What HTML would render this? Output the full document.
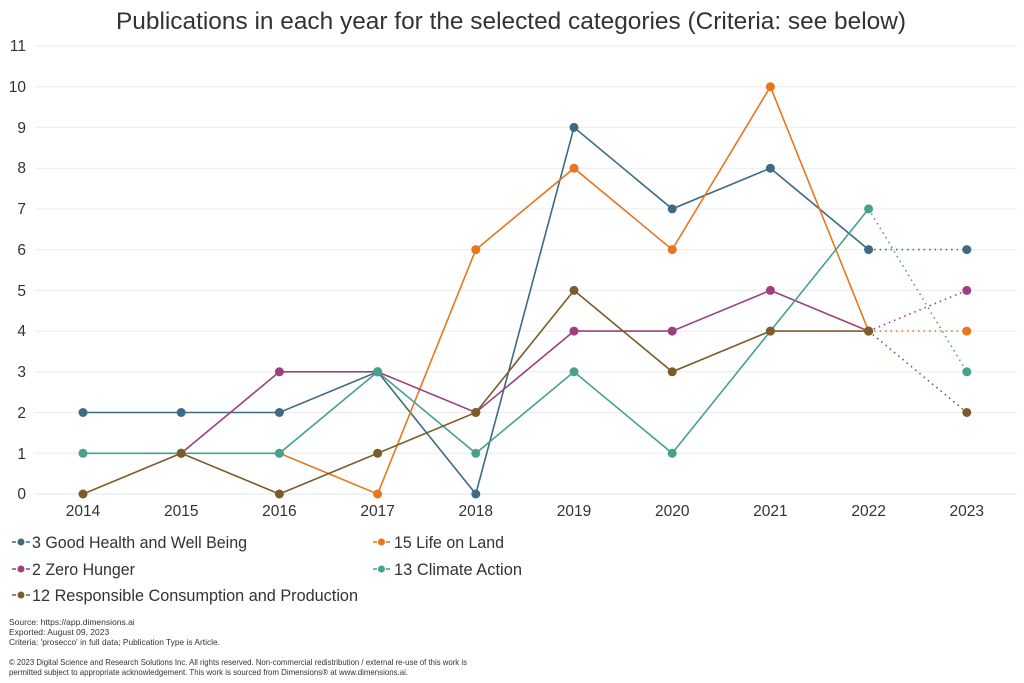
<!DOCTYPE html>
<html><head><meta charset="utf-8">
<style>
html,body{margin:0;padding:0;background:#fff;}
svg{display:block;font-family:"Liberation Sans",sans-serif;}
</style></head>
<body>
<svg width="1024" height="683" viewBox="0 0 1024 683" xmlns="http://www.w3.org/2000/svg">
<rect width="1024" height="683" fill="#fff"/>
<text x="511" y="29" text-anchor="middle" font-size="24" fill="#333" textLength="790" lengthAdjust="spacingAndGlyphs">Publications in each year for the selected categories (Criteria: see below)</text>
<g stroke="#ececec" stroke-width="1">
<line x1="35" y1="46" x2="1017" y2="46"/>
<line x1="35" y1="86.7" x2="1017" y2="86.7"/>
<line x1="35" y1="127.4" x2="1017" y2="127.4"/>
<line x1="35" y1="168.2" x2="1017" y2="168.2"/>
<line x1="35" y1="208.9" x2="1017" y2="208.9"/>
<line x1="35" y1="249.6" x2="1017" y2="249.6"/>
<line x1="35" y1="290.4" x2="1017" y2="290.4"/>
<line x1="35" y1="331.1" x2="1017" y2="331.1"/>
<line x1="35" y1="371.8" x2="1017" y2="371.8"/>
<line x1="35" y1="412.5" x2="1017" y2="412.5"/>
<line x1="35" y1="453.3" x2="1017" y2="453.3"/>
</g>
<line x1="35" y1="494" x2="1017" y2="494" stroke="#dde5ea" stroke-width="1"/>
<g font-size="15.5" fill="#333" text-anchor="end">
<text x="26" y="51">11</text>
<text x="26" y="92">10</text>
<text x="26" y="133">9</text>
<text x="26" y="173">8</text>
<text x="26" y="214">7</text>
<text x="26" y="255">6</text>
<text x="26" y="296">5</text>
<text x="26" y="336">4</text>
<text x="26" y="377">3</text>
<text x="26" y="418">2</text>
<text x="26" y="459">1</text>
<text x="26" y="499">0</text>
</g>
<g font-size="15.5" fill="#333" text-anchor="middle">
<text x="83" y="516">2014</text>
<text x="181.2" y="516">2015</text>
<text x="279.4" y="516">2016</text>
<text x="377.6" y="516">2017</text>
<text x="475.8" y="516">2018</text>
<text x="574" y="516">2019</text>
<text x="672.2" y="516">2020</text>
<text x="770.4" y="516">2021</text>
<text x="868.6" y="516">2022</text>
<text x="966.8" y="516">2023</text>
</g>

<!-- blue -->
<g stroke="#3e6a86" fill="none" stroke-width="1.6">
<polyline points="83,412.5 181.2,412.5 279.4,412.5 377.6,371.8 475.8,494 574,127.4 672.2,208.9 770.4,168.2 868.6,249.6"/>
<line x1="868.6" y1="249.6" x2="966.8" y2="249.6" stroke-dasharray="1.5,4"/>
</g>
<g fill="#3e6a86">
<circle cx="83" cy="412.5" r="4.5"/><circle cx="181.2" cy="412.5" r="4.5"/><circle cx="279.4" cy="412.5" r="4.5"/><circle cx="377.6" cy="371.8" r="4.5"/><circle cx="475.8" cy="494" r="4.5"/><circle cx="574" cy="127.4" r="4.5"/><circle cx="672.2" cy="208.9" r="4.5"/><circle cx="770.4" cy="168.2" r="4.5"/><circle cx="868.6" cy="249.6" r="4.5"/><circle cx="966.8" cy="249.6" r="4.5"/>
</g>
<!-- orange -->
<g stroke="#e8761e" fill="none" stroke-width="1.6">
<polyline points="279.4,453.3 377.6,494 475.8,249.6 574,168.2 672.2,249.6 770.4,86.7 868.6,331.1"/>
<line x1="868.6" y1="331.1" x2="966.8" y2="331.1" stroke-dasharray="1.5,4"/>
</g>
<g fill="#e8761e">
<circle cx="279.4" cy="453.3" r="4.5"/><circle cx="377.6" cy="494" r="4.5"/><circle cx="475.8" cy="249.6" r="4.5"/><circle cx="574" cy="168.2" r="4.5"/><circle cx="672.2" cy="249.6" r="4.5"/><circle cx="770.4" cy="86.7" r="4.5"/><circle cx="868.6" cy="331.1" r="4.5"/><circle cx="966.8" cy="331.1" r="4.5"/>
</g>
<!-- purple -->
<g stroke="#9e4080" fill="none" stroke-width="1.6">
<polyline points="181.2,453.3 279.4,371.8 377.6,371.8 475.8,412.5 574,331.1 672.2,331.1 770.4,290.4 868.6,331.1"/>
<line x1="868.6" y1="331.1" x2="966.8" y2="290.4" stroke-dasharray="1.5,4"/>
</g>
<g fill="#9e4080">
<circle cx="181.2" cy="453.3" r="4.5"/><circle cx="279.4" cy="371.8" r="4.5"/><circle cx="377.6" cy="371.8" r="4.5"/><circle cx="475.8" cy="412.5" r="4.5"/><circle cx="574" cy="331.1" r="4.5"/><circle cx="672.2" cy="331.1" r="4.5"/><circle cx="770.4" cy="290.4" r="4.5"/><circle cx="868.6" cy="331.1" r="4.5"/><circle cx="966.8" cy="290.4" r="4.5"/>
</g>
<!-- teal -->
<g stroke="#47a18c" fill="none" stroke-width="1.6">
<polyline points="83,453.3 181.2,453.3 279.4,453.3 377.6,371.8 475.8,453.3 574,371.8 672.2,453.3 770.4,331.1 868.6,208.9"/>
<line x1="868.6" y1="208.9" x2="966.8" y2="371.8" stroke-dasharray="1.5,4"/>
</g>
<g fill="#47a18c">
<circle cx="83" cy="453.3" r="4.5"/><circle cx="181.2" cy="453.3" r="4.5"/><circle cx="279.4" cy="453.3" r="4.5"/><circle cx="377.6" cy="371.8" r="4.5"/><circle cx="475.8" cy="453.3" r="4.5"/><circle cx="574" cy="371.8" r="4.5"/><circle cx="672.2" cy="453.3" r="4.5"/><circle cx="770.4" cy="331.1" r="4.5"/><circle cx="868.6" cy="208.9" r="4.5"/><circle cx="966.8" cy="371.8" r="4.5"/>
</g>
<!-- brown -->
<g stroke="#7b5d2c" fill="none" stroke-width="1.6">
<polyline points="83,494 181.2,453.3 279.4,494 377.6,453.3 475.8,412.5 574,290.4 672.2,371.8 770.4,331.1 868.6,331.1"/>
<line x1="868.6" y1="331.1" x2="966.8" y2="412.5" stroke-dasharray="1.5,4"/>
</g>
<g fill="#7b5d2c">
<circle cx="83" cy="494" r="4.5"/><circle cx="181.2" cy="453.3" r="4.5"/><circle cx="279.4" cy="494" r="4.5"/><circle cx="377.6" cy="453.3" r="4.5"/><circle cx="475.8" cy="412.5" r="4.5"/><circle cx="574" cy="290.4" r="4.5"/><circle cx="672.2" cy="371.8" r="4.5"/><circle cx="770.4" cy="331.1" r="4.5"/><circle cx="868.6" cy="331.1" r="4.5"/><circle cx="966.8" cy="412.5" r="4.5"/>
</g>

<!-- legend -->
<g stroke-width="1.5">
<line x1="12" y1="542" x2="16" y2="542" stroke="#3e6a86"/><line x1="26" y1="542" x2="30" y2="542" stroke="#3e6a86"/><circle cx="21" cy="542" r="3.5" fill="#3e6a86"/>
<line x1="373" y1="542" x2="377" y2="542" stroke="#e8761e"/><line x1="386" y1="542" x2="390" y2="542" stroke="#e8761e"/><circle cx="381.5" cy="542" r="3.5" fill="#e8761e"/>
<line x1="12" y1="569" x2="16" y2="569" stroke="#9e4080"/><line x1="26" y1="569" x2="30" y2="569" stroke="#9e4080"/><circle cx="21" cy="569" r="3.5" fill="#9e4080"/>
<line x1="373" y1="569" x2="377" y2="569" stroke="#47a18c"/><line x1="386" y1="569" x2="390" y2="569" stroke="#47a18c"/><circle cx="381.5" cy="569" r="3.5" fill="#47a18c"/>
<line x1="12" y1="595" x2="16" y2="595" stroke="#7b5d2c"/><line x1="26" y1="595" x2="30" y2="595" stroke="#7b5d2c"/><circle cx="21" cy="595" r="3.5" fill="#7b5d2c"/>
</g>
<g font-size="17" fill="#333">
<text x="32" y="548" textLength="215" lengthAdjust="spacingAndGlyphs">3 Good Health and Well Being</text>
<text x="394" y="548" textLength="110" lengthAdjust="spacingAndGlyphs">15 Life on Land</text>
<text x="32" y="575" textLength="103" lengthAdjust="spacingAndGlyphs">2 Zero Hunger</text>
<text x="394" y="575" textLength="128" lengthAdjust="spacingAndGlyphs">13 Climate Action</text>
<text x="32" y="601" textLength="326" lengthAdjust="spacingAndGlyphs">12 Responsible Consumption and Production</text>
</g>
<g font-size="8.5" fill="#333">
<text x="9" y="625">Source: https://app.dimensions.ai</text>
<text x="9" y="635">Exported: August 09, 2023</text>
<text x="9" y="645" textLength="211" lengthAdjust="spacingAndGlyphs">Criteria: 'prosecco' in full data; Publication Type is Article.</text>
<text x="9" y="665" textLength="458" lengthAdjust="spacingAndGlyphs">© 2023 Digital Science and Research Solutions Inc. All rights reserved. Non-commercial redistribution / external re-use of this work is</text>
<text x="9" y="675" textLength="399" lengthAdjust="spacingAndGlyphs">permitted subject to appropriate acknowledgement. This work is sourced from Dimensions® at www.dimensions.ai.</text>
</g>
</svg>
</body></html>
